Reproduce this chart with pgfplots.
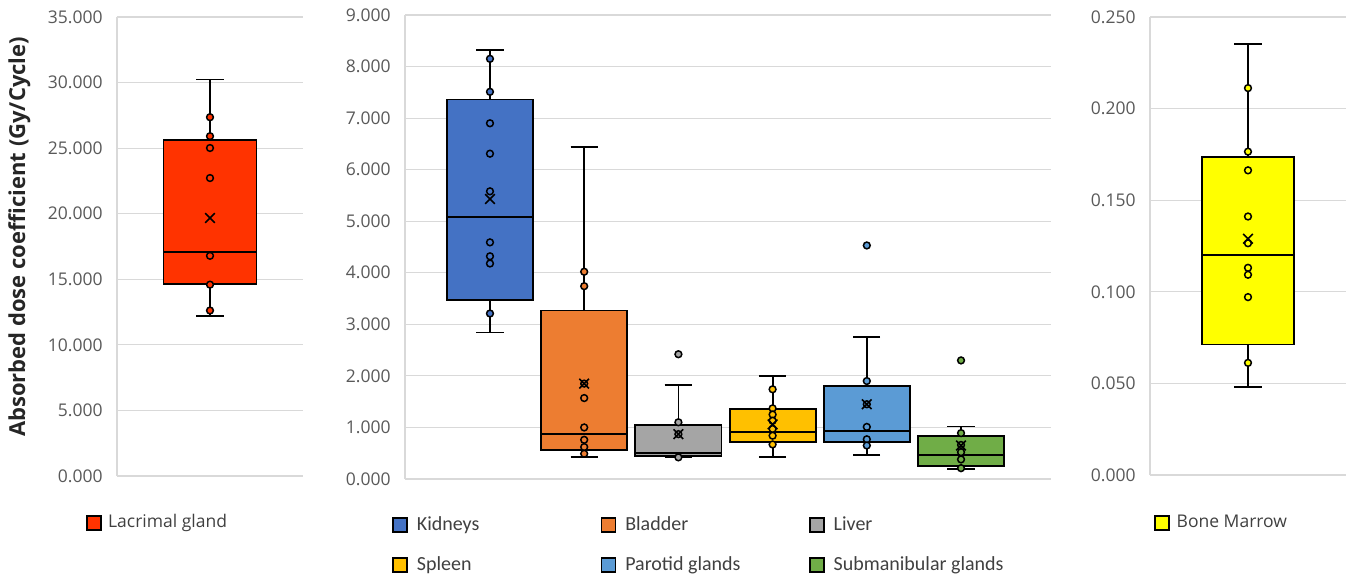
\documentclass[border=0pt]{standalone}
\usepackage{fontspec}
\setmainfont{Open Sans}
\newfontfamily\carlito{Carlito}
\usepackage{pgfplots}
\pgfplotsset{compat=1.18}
\usepgfplotslibrary{statistics}

\definecolor{lacr}{HTML}{FF3300}
\definecolor{kid}{HTML}{4472C4}
\definecolor{bla}{HTML}{ED7D31}
\definecolor{liv}{HTML}{A5A5A5}
\definecolor{spl}{HTML}{FFC000}
\definecolor{par}{HTML}{5B9BD5}
\definecolor{sub}{HTML}{70AD47}
\definecolor{bm}{HTML}{FFFF00}
\definecolor{gridc}{HTML}{D9D9D9}
\definecolor{tickc}{HTML}{595959}

\pgfplotsset{
  panel/.style={
    scale only axis,
    axis x line*=bottom, axis y line*=left,
    x axis line style={draw=none},
    y axis line style={draw=gridc, line width=0.6pt, -},
    xtick=\empty,
    ymajorgrids,
    grid style={draw=gridc, line width=0.6pt},
    major tick length=0pt,
    ytick style={draw=none},
    scaled y ticks=false,
    boxplot/draw direction=y,
    boxplot/every median/.style={line width=1pt},
    yticklabel style={font=\fontsize{8.75}{10}\selectfont, text=tickc, inner sep=0pt, xshift=-7pt,
      /pgf/number format/.cd, fixed, fixed zerofill, precision=3, assume math mode=true},
    legend image code/.code={\draw[#1,draw=black,line width=0.7pt] (0pt,-3.5pt) rectangle (7pt,3.5pt);},
  },
  bx/.style={draw=black, line width=0.9pt, fill=#1, solid, forget plot},
  pts/.style={only marks, mark=*, mark size=1.7pt, mark options={fill=#1, draw=black, line width=0.75pt, solid}, forget plot},
  avg/.style={only marks, mark=x, mark size=3.4pt, mark options={draw=black, line width=0.8pt}, forget plot},
}

\begin{document}
\begin{tikzpicture}
\path[use as bounding box] (0,0) rectangle (678.5pt,288pt);

% Lacrimal gland
\begin{axis}[panel, at={(58.5pt,50pt)}, anchor=south west,
    width=93pt, height=229.5pt,
    xmin=0, xmax=2, ymin=0, ymax=35, ytick distance=5,
    ylabel={Absorbed dose coefficient (Gy/Cycle)},
    ylabel style={at={(rel axis cs:-0.525,0.521)}, anchor=center,
      font=\bfseries\fontsize{11}{12}\selectfont, text=black!85},
    legend style={draw=none, fill=none, inner sep=0pt, at={(-0.167,-0.102)}, anchor=west,
      font=\fontsize{8.75}{10}\selectfont, text=black!75,
      /tikz/every odd column/.append style={column sep=1.2pt}},
  ]
\addplot[bx=lacr, boxplot prepared={draw position=1, lower whisker=12.20, lower quartile=14.63,
    median=17.10, upper quartile=25.63, upper whisker=30.24, box extend=1, whisker extend=0.3}]
  coordinates {};
\addplot[pts=lacr] coordinates {(1,27.36) (1,25.91) (1,25.01) (1,22.72) (1,16.79) (1,14.59) (1,12.62)};
\addplot[avg] coordinates {(1,19.67)};
\addlegendimage{fill=lacr}
\addlegendentry{Lacrimal gland}
\end{axis}

% Six organs
\begin{axis}[panel, at={(202.5pt,48.5pt)}, anchor=south west,
    width=323pt, height=232pt,
    xmin=0.098, xmax=6.955, ymin=0, ymax=9, ytick distance=1,
    legend columns=3,
    legend style={draw=none, fill=none, inner sep=0pt, at={(-0.020,-0.142)}, anchor=west,
      font=\carlito\fontsize{10}{12}\selectfont, text=black!75, row sep=7.5pt,
      /tikz/every odd column/.append style={column sep=2.5pt},
      /tikz/every even column/.append style={column sep=0pt}},
  ]
\addplot[bx=kid, boxplot prepared={draw position=1, lower whisker=2.84, lower quartile=3.47,
    median=5.09, upper quartile=7.36, upper whisker=8.32, box extend=0.913, whisker extend=0.29}]
  coordinates {};
\addplot[pts=kid] coordinates {(1,8.15) (1,7.51) (1,6.90) (1,6.31) (1,5.58) (1,4.59) (1,4.32) (1,4.18) (1,3.21)};
\addplot[avg] coordinates {(1,5.43)};

\addplot[bx=bla, boxplot prepared={draw position=2, lower whisker=0.42, lower quartile=0.57,
    median=0.87, upper quartile=3.27, upper whisker=6.44, box extend=0.913, whisker extend=0.29}]
  coordinates {};
\addplot[pts=bla] coordinates {(2,4.02) (2,3.74) (2,1.85) (2,1.57) (2,1.00) (2,0.76) (2,0.62) (2,0.49)};
\addplot[avg] coordinates {(2,1.85)};

\addplot[bx=liv, boxplot prepared={draw position=3, lower whisker=0.42, lower quartile=0.44,
    median=0.50, upper quartile=1.04, upper whisker=1.83, box extend=0.913, whisker extend=0.29}]
  coordinates {};
\addplot[pts=liv] coordinates {(3,2.42) (3,1.10) (3,0.87) (3,0.42)};
\addplot[avg] coordinates {(3,0.87)};

\addplot[bx=spl, boxplot prepared={draw position=4, lower whisker=0.42, lower quartile=0.71,
    median=0.92, upper quartile=1.35, upper whisker=2.00, box extend=0.913, whisker extend=0.29}]
  coordinates {};
\addplot[pts=spl] coordinates {(4,1.74) (4,1.37) (4,1.25) (4,1.13) (4,0.97) (4,0.84) (4,0.67)};
\addplot[avg] coordinates {(4,1.06)};

\addplot[bx=par, boxplot prepared={draw position=5, lower whisker=0.46, lower quartile=0.72,
    median=0.94, upper quartile=1.80, upper whisker=2.75, box extend=0.913, whisker extend=0.29}]
  coordinates {};
\addplot[pts=par] coordinates {(5,4.53) (5,1.90) (5,1.45) (5,1.01) (5,0.77) (5,0.65)};
\addplot[avg] coordinates {(5,1.45)};

\addplot[bx=sub, boxplot prepared={draw position=6, lower whisker=0.20, lower quartile=0.25,
    median=0.47, upper quartile=0.84, upper whisker=1.02, box extend=0.913, whisker extend=0.29}]
  coordinates {};
\addplot[pts=sub] coordinates {(6,2.30) (6,0.89) (6,0.66) (6,0.52) (6,0.38) (6,0.21)};
\addplot[avg] coordinates {(6,0.65)};

\addlegendimage{fill=kid}
\addlegendentry{\makebox[90pt][l]{Kidneys}}
\addlegendimage{fill=bla}
\addlegendentry{\makebox[90pt][l]{Bladder}}
\addlegendimage{fill=liv}
\addlegendentry{\makebox[90pt][l]{Liver}}
\addlegendimage{fill=spl}
\addlegendentry{\makebox[90pt][l]{Spleen}}
\addlegendimage{fill=par}
\addlegendentry{\makebox[90pt][l]{Parotid glands}}
\addlegendimage{fill=sub}
\addlegendentry{\makebox[90pt][l]{Submanibular glands}}
\end{axis}

% Bone marrow
\begin{axis}[panel, at={(575pt,50.5pt)}, anchor=south west,
    width=98pt, height=229pt,
    xmin=0, xmax=2, ymin=0, ymax=0.25, ytick={0,0.05,0.1,0.15,0.2,0.25},
    legend style={draw=none, fill=none, inner sep=0pt, at={(0.020,-0.105)}, anchor=west,
      font=\fontsize{8.75}{10}\selectfont, text=black!75,
      /tikz/every odd column/.append style={column sep=1.5pt}},
  ]
\addplot[bx=bm, boxplot prepared={draw position=1, lower whisker=0.0481, lower quartile=0.0712,
    median=0.1199, upper quartile=0.1737, upper whisker=0.2354, box extend=0.94, whisker extend=0.28}]
  coordinates {};
\addplot[pts=bm] coordinates {(1,0.2112) (1,0.1765) (1,0.1663) (1,0.1411) (1,0.1265) (1,0.1131) (1,0.1093) (1,0.0971) (1,0.0612)};
\addplot[avg] coordinates {(1,0.1289)};
\addlegendimage{fill=bm}
\addlegendentry{Bone Marrow}
\end{axis}
\end{tikzpicture}
\end{document}
